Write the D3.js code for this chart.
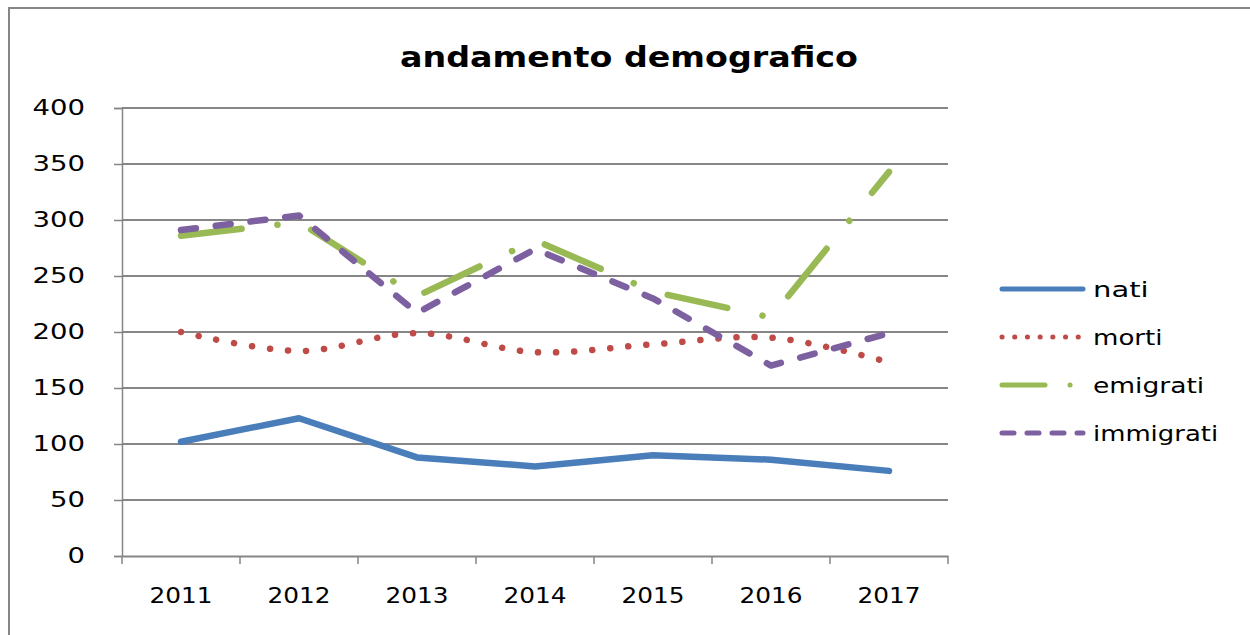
<!DOCTYPE html>
<html>
<head>
<meta charset="utf-8">
<script src="https://cdn.jsdelivr.net/npm/d3@7"></script>
<style>
  html, body { margin: 0; padding: 0; background: #fff; }
  svg { display: block; font-family: "DejaVu Sans", sans-serif; }
</style>
</head>
<body>
<div id="chart"></div>
<script>
  // data
  const years = ['2011', '2012', '2013', '2014', '2015', '2016', '2017'];
  const nati = [102, 123, 88, 80, 90, 86, 76];
  const morti = [200, 183, 199, 182, 189, 195, 173];
  const emigrati = [286, 298, 232, 282, 236, 213, 343];
  const immigrati = [291, 304, 217, 274, 230, 170, 199];
  const yTicks = [0, 50, 100, 150, 200, 250, 300, 350, 400];
  const seriesNames = ['nati', 'morti', 'emigrati', 'immigrati'];

  const W = 1250, H = 635;
  const plot = { left: 122, right: 948, top: 108, bottom: 556 };
  const grey = '#868686';

  const series = [
    { name: seriesNames[0], values: nati, color: '#4a7ebb', dash: null, legendDash: null, curve: d3.curveLinear },
    { name: seriesNames[1], values: morti, color: '#be4b48', dash: '0.1,18', legendDash: '0.1,12.6', curve: d3.curveCatmullRom },
    { name: seriesNames[2], values: emigrati, color: '#98b954', dash: '61,36,0.1,36', legendDash: '43,25,0.1,30', curve: d3.curveLinear },
    { name: seriesNames[3], values: immigrati, color: '#7d60a0', dash: '15,20', legendDash: '12,13', curve: d3.curveLinear }
  ];

  const svg = d3.select('#chart')
    .append('svg')
    .attr('width', W)
    .attr('height', H);

  // outer frame (runs past the right and bottom edges)
  svg.append('rect')
    .attr('x', 9).attr('y', 8)
    .attr('width', W + 20).attr('height', H + 20)
    .attr('fill', 'none')
    .attr('stroke', grey)
    .attr('stroke-width', 2);

  const x = d3.scaleBand().domain(years).range([plot.left, plot.right]).padding(0);
  const y = d3.scaleLinear().domain([0, 400]).range([plot.bottom, plot.top]);

  // gridlines
  svg.append('g')
    .selectAll('line')
    .data(yTicks.filter(d => d > 0))
    .join('line')
    .attr('x1', plot.left).attr('x2', plot.right)
    .attr('y1', d => y(d)).attr('y2', d => y(d))
    .attr('stroke', grey).attr('stroke-width', 1.8);

  // y axis
  const yAxis = svg.append('g')
    .attr('transform', `translate(${plot.left},0)`)
    .call(d3.axisLeft(y).tickValues(yTicks).tickSize(8).tickPadding(29));
  yAxis.select('.domain').attr('stroke', grey).attr('stroke-width', 1.5);
  yAxis.selectAll('.tick line').attr('stroke', grey).attr('stroke-width', 1.5);
  yAxis.selectAll('.tick text')
    .attr('font-size', 21)
    .attr('font-family', '"DejaVu Sans", sans-serif')
    .attr('fill', '#000')
    .attr('textLength', d => String(d).length * 17.5)
    .attr('lengthAdjust', 'spacingAndGlyphs');

  // x axis, ticks on band edges
  const xAxis = svg.append('g')
    .attr('transform', `translate(0,${plot.bottom})`)
    .call(d3.axisBottom(x).tickSize(0).tickPadding(32));
  xAxis.select('.domain').attr('stroke', grey).attr('stroke-width', 1.8);
  xAxis.selectAll('.tick text')
    .attr('font-size', 21)
    .attr('font-family', '"DejaVu Sans", sans-serif')
    .attr('fill', '#000')
    .attr('textLength', 63)
    .attr('lengthAdjust', 'spacingAndGlyphs');
  xAxis.selectAll('.edge')
    .data(years.map(d => x(d)).concat([plot.right]))
    .join('line')
    .attr('class', 'edge')
    .attr('x1', d => d).attr('x2', d => d)
    .attr('y1', 0).attr('y2', 8)
    .attr('stroke', grey).attr('stroke-width', 1.5);

  // title
  svg.append('text')
    .attr('x', 629).attr('y', 67)
    .attr('text-anchor', 'middle')
    .attr('font-size', 29)
    .attr('font-weight', 'bold')
    .attr('textLength', 458)
    .attr('lengthAdjust', 'spacingAndGlyphs')
    .attr('fill', '#000')
    .text('andamento demografico');

  // lines
  const cx = d => x(d) + x.bandwidth() / 2;
  series.forEach(s => {
    const line = d3.line()
      .x((d, i) => cx(years[i]))
      .y(d => y(d))
      .curve(s.curve);
    svg.append('path')
      .datum(s.values)
      .attr('fill', 'none')
      .attr('stroke', s.color)
      .attr('stroke-width', 6.5)
      .attr('stroke-linecap', 'round')
      .attr('stroke-linejoin', 'round')
      .attr('stroke-dasharray', s.dash)
      .attr('d', line);
  });

  // legend
  const legend = svg.append('g').attr('transform', 'translate(1000,289)');
  const item = legend.selectAll('g')
    .data(series)
    .join('g')
    .attr('transform', (d, i) => `translate(0,${i * 48})`);
  item.append('line')
    .attr('x1', 2).attr('x2', 83)
    .attr('y1', 0).attr('y2', 0)
    .attr('stroke', d => d.color)
    .attr('stroke-width', 5)
    .attr('stroke-linecap', 'round')
    .attr('stroke-dasharray', d => d.legendDash);
  item.append('text')
    .attr('x', 93).attr('y', 8)
    .attr('font-size', 22)
    .attr('fill', '#000')
    .attr('textLength', d => d.name.length * 13.9)
    .attr('lengthAdjust', 'spacingAndGlyphs')
    .text(d => d.name);
</script>
</body>
</html>
